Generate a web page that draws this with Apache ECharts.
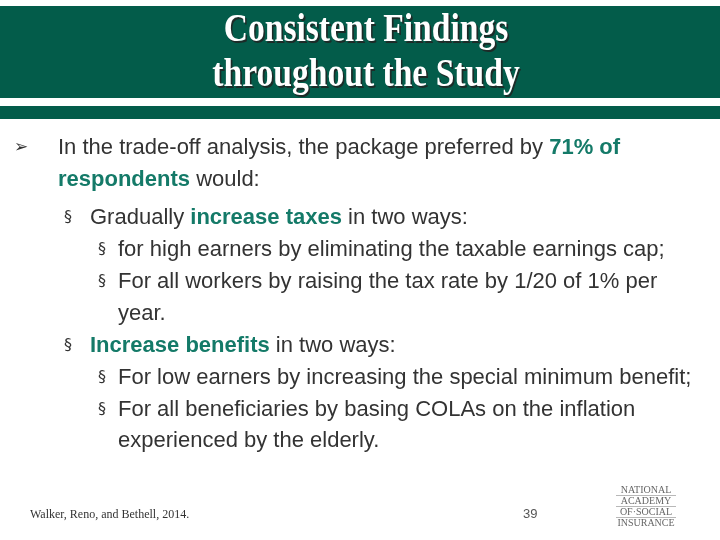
<!DOCTYPE html>
<html><head><meta charset="utf-8">
<script src="https://cdn.jsdelivr.net/npm/echarts@6/dist/echarts.min.js"></script>
<style>html,body{margin:0;padding:0;background:#fff}#c{width:720px;height:540px}</style>
</head><body><div id="c"></div>
<script>
const titleLines = ["Consistent Findings", "throughout the Study"];
// each line: [bulletChar, bulletX, textX, y, segments[[text, highlighted]]]
const bodyLines = [
  ["➢", 14, 58, 148, [["In the trade-off analysis, the package preferred by ", 0], ["71% of", 1]]],
  ["", 0, 58, 180, [["respondents", 1], [" would:", 0]]],
  ["§", 64, 90, 218, [["Gradually ", 0], ["increase taxes", 1], [" in two ways:", 0]]],
  ["§", 98, 118, 250, [["for high earners by eliminating the taxable earnings cap;", 0]]],
  ["§", 98, 118, 282, [["For all workers by raising the tax rate by 1/20 of 1% per", 0]]],
  ["", 0, 118, 314, [["year.", 0]]],
  ["§", 64, 90, 346, [["Increase benefits", 1], [" in two ways:", 0]]],
  ["§", 98, 118, 378, [["For low earners by increasing the special minimum benefit;", 0]]],
  ["§", 98, 118, 410, [["For all beneficiaries by basing COLAs on the inflation", 0]]],
  ["", 0, 118, 441, [["experienced by the elderly.", 0]]]
];
const footerText = "Walker, Reno, and Bethell, 2014.";
const pageNumber = "39";
const logoLines = ["NATIONAL", "ACADEMY", "OF\u00B7SOCIAL", "INSURANCE"];

const GREEN = "#035c4a", TEAL = "#147a68", DARK = "#333333";
const g = [];
g.push({type:'rect', shape:{x:0,y:6,width:720,height:92}, style:{fill:GREEN}});
g.push({type:'rect', shape:{x:0,y:106,width:720,height:13}, style:{fill:GREEN}});
titleLines.forEach((t,i)=>{
  const y = 31 + i*45;
  g.push({type:'group', x:366, y:y, scaleX:0.84, children:[
    {type:'text', x:2, y:2, style:{text:t, fill:'#222', font:'bold 40px "Liberation Serif", serif', align:'center', verticalAlign:'middle', opacity:0.85}},
    {type:'text', x:0, y:0, style:{text:t, fill:'#ffffff', font:'bold 40px "Liberation Serif", serif', align:'center', verticalAlign:'middle'}}
  ]});
});
bodyLines.forEach(([b,bx,tx,y,segs])=>{
  if (b) g.push({type:'text', x:bx, y:y, style:{text:b, fill:DARK, font: (b==='➢'?'17px':'16px')+' "DejaVu Sans", sans-serif', verticalAlign:'middle'}});
  g.push({type:'text', x:tx, y:y, style:{
    text: segs.map(s=>'{'+(s[1]?'h':'n')+'|'+s[0]+'}').join(''),
    verticalAlign:'middle',
    rich:{
      n:{fill:DARK, font:'22px "Liberation Sans", Arial, sans-serif'},
      h:{fill:TEAL, font:'bold 22px "Liberation Sans", Arial, sans-serif'}
    }}});
});
g.push({type:'text', x:30, y:515, style:{text:footerText, fill:DARK, font:'12px "Liberation Serif", serif', verticalAlign:'middle'}});
g.push({type:'text', x:523, y:514, style:{text:pageNumber, fill:'#555', font:'13px "Liberation Sans", sans-serif', verticalAlign:'middle'}});
logoLines.forEach((t,i)=>{
  const y = 490 + i*11;
  g.push({type:'text', x:646, y:y, style:{text:t, fill:'#666', font:'10px "Liberation Serif", serif', align:'center', verticalAlign:'middle', textLetterSpacing:1}});
  if (i<3) g.push({type:'line', shape:{x1:616,y1:y+5.5,x2:676,y2:y+5.5}, style:{stroke:'#888', lineWidth:0.6}});
});

const chart = echarts.init(document.getElementById('c'));
chart.setOption({animation:false, graphic:{elements:g}});
</script></body></html>
